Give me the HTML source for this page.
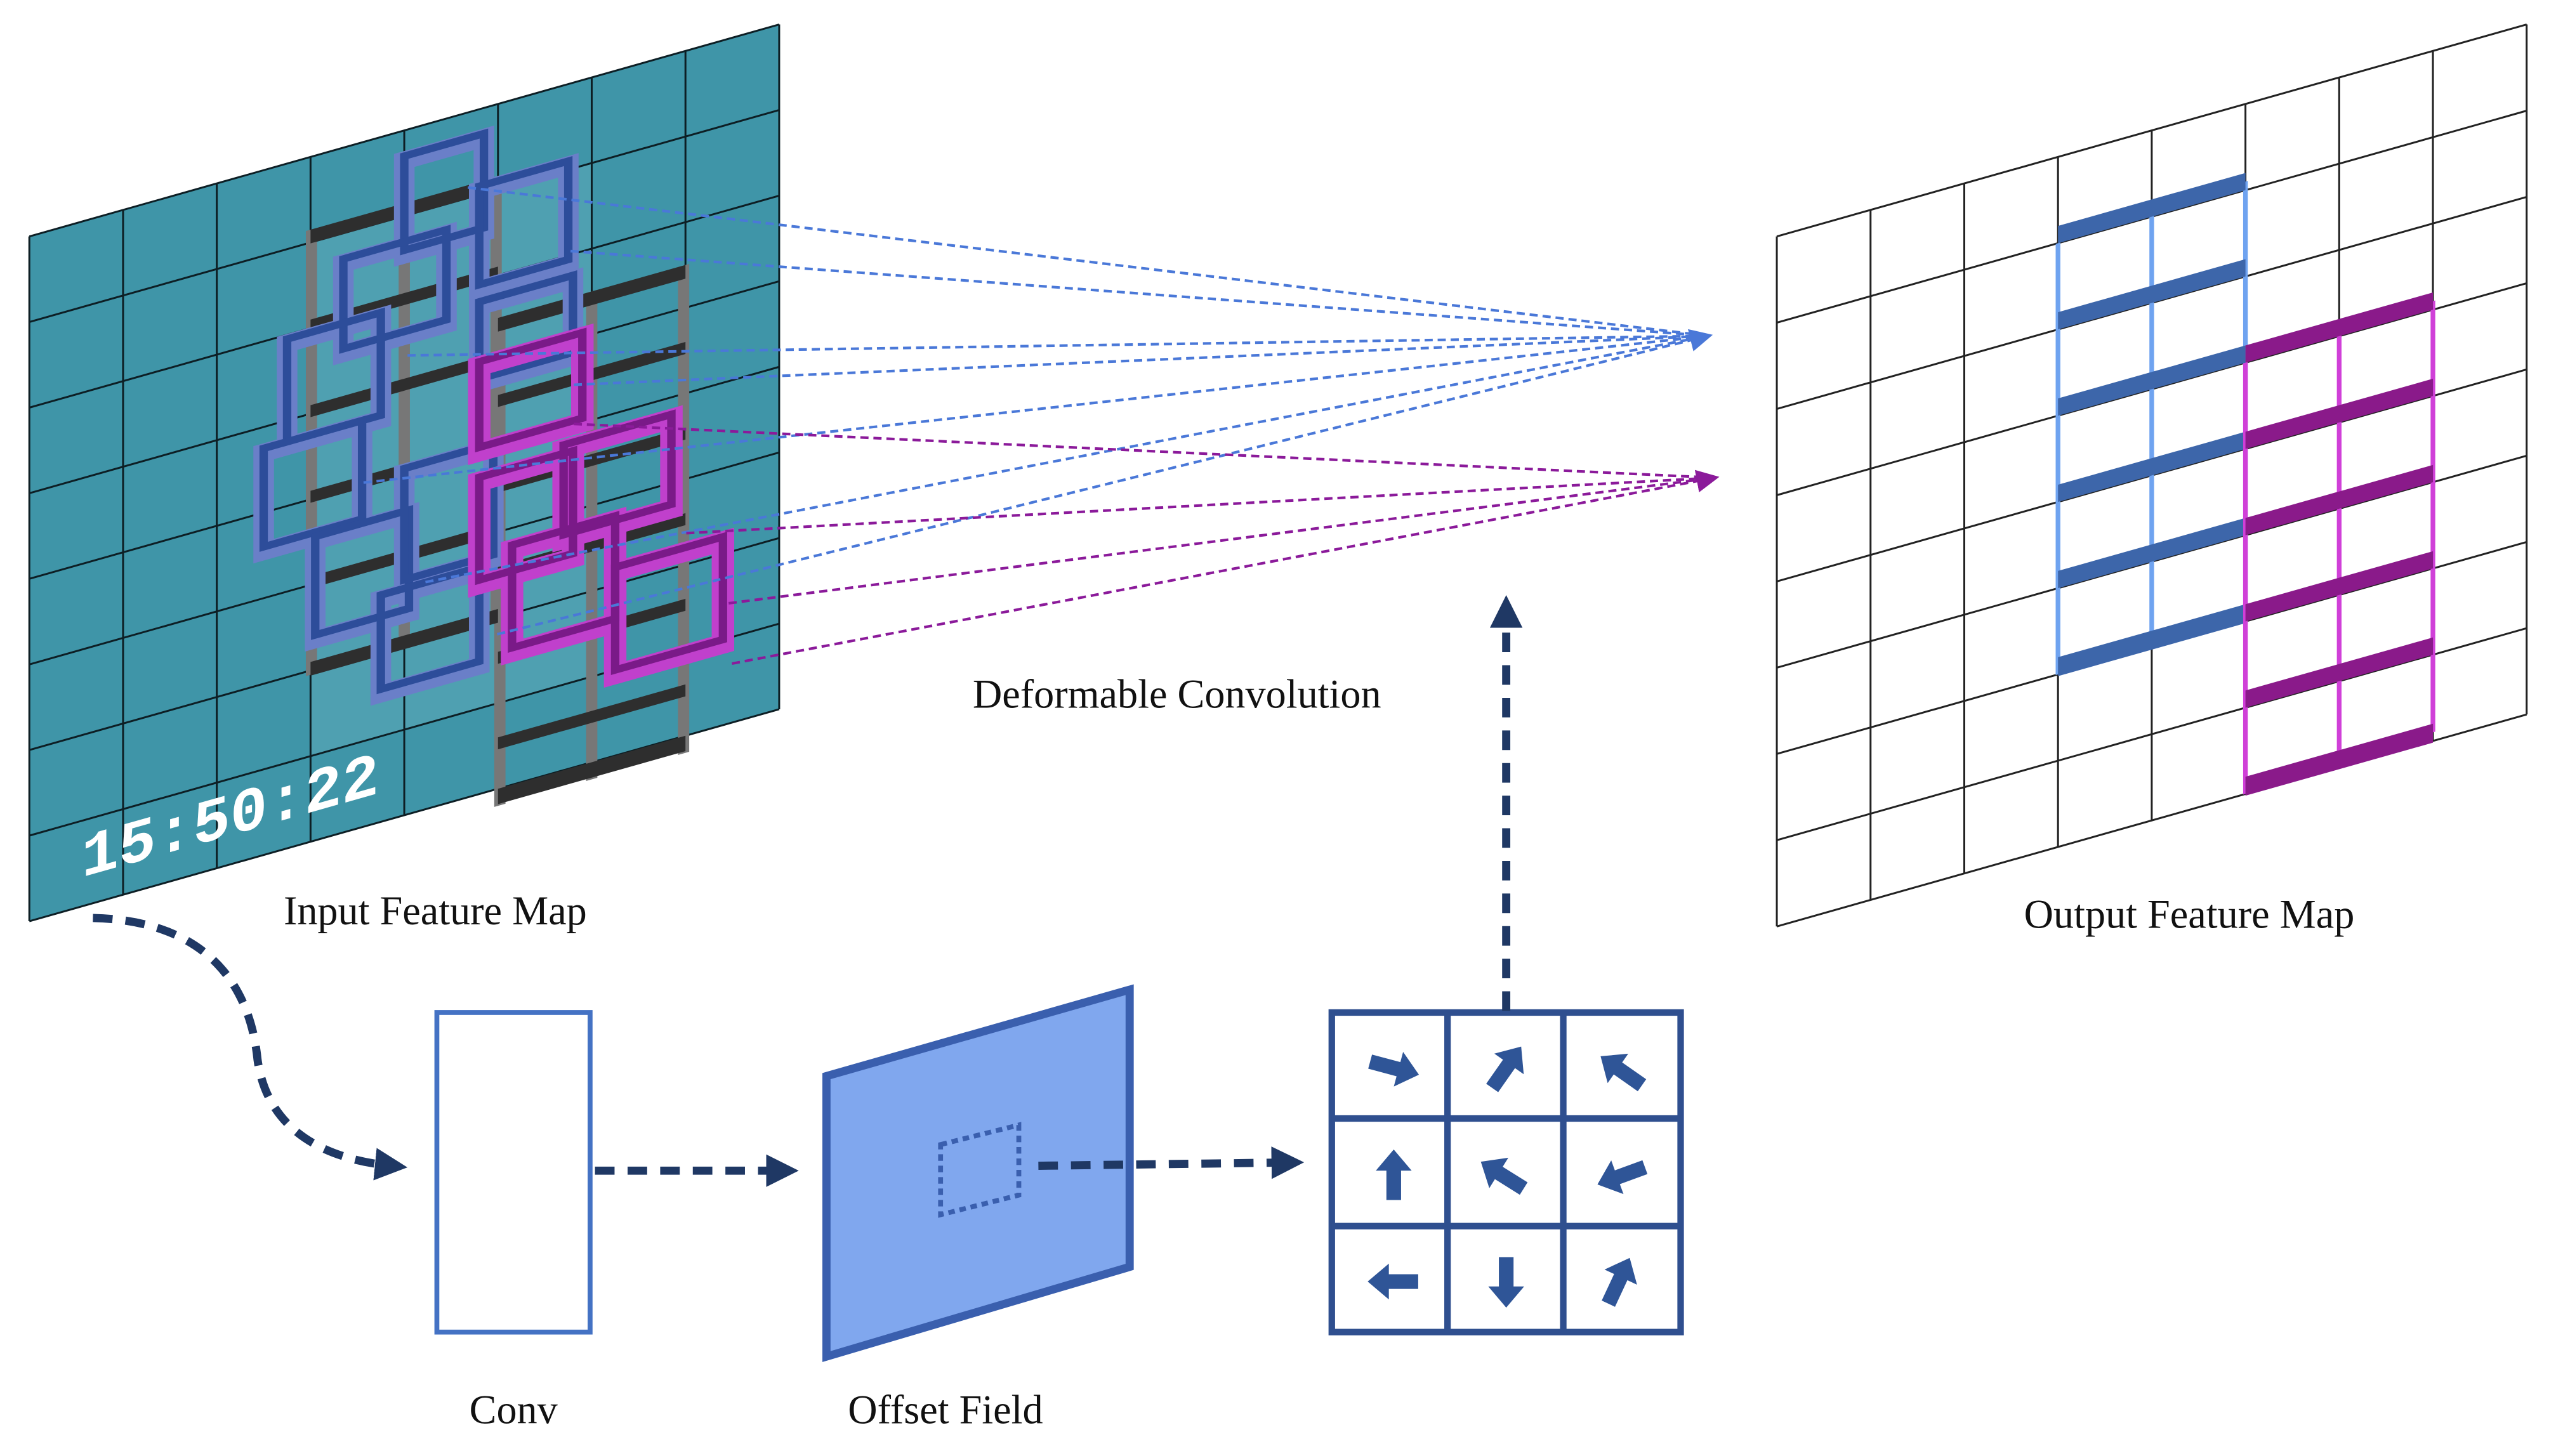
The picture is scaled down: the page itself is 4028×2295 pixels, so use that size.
<!DOCTYPE html>
<html><head><meta charset="utf-8"><style>
html,body{margin:0;padding:0;background:#fff;}
svg{display:block;}
text{font-family:"Liberation Serif",serif;fill:#111;}
</style></head><body>
<svg width="4028" height="2295" viewBox="0 0 1568 893" preserveAspectRatio="none" xmlns="http://www.w3.org/2000/svg">
<defs>
<marker id="ah" viewBox="0 0 10 10" refX="5" refY="5" markerWidth="4" markerHeight="4" orient="auto"><path d="M0,0 L10,5 L0,10 z" fill="#1f3864"/></marker>
<marker id="ab" viewBox="0 0 10 10" refX="8" refY="5" markerWidth="14" markerHeight="14" markerUnits="userSpaceOnUse" orient="auto"><path d="M0,0 L10,5 L0,10 z" fill="#4a78d8"/></marker>
<marker id="ap" viewBox="0 0 10 10" refX="8" refY="5" markerWidth="14" markerHeight="14" markerUnits="userSpaceOnUse" orient="auto"><path d="M0,0 L10,5 L0,10 z" fill="#8b1a9a"/></marker>
<g id="arr"><polygon points="-15,-4.5 3,-4.5 3,-11 16,0 3,11 3,4.5 -15,4.5" fill="#2f5597"/></g>
</defs>

<!-- INPUT MAP -->
<g transform="matrix(57.5,-16.25,0,52.5,18,145)">
<rect x="0" y="0" width="8" height="8" fill="#3f95a8"/>
<rect x="3" y="1" width="3" height="6" fill="#5aa9b8" opacity="0.6"/>
<path vector-effect="non-scaling-stroke" stroke="#0d1e24" stroke-width="3" fill="none" d="M0,0V8M1,0V8M2,0V8M3,0V8M4,0V8M5,0V8M6,0V8M7,0V8M8,0V8M0,0H8M0,1H8M0,2H8M0,3H8M0,4H8M0,5H8M0,6H8M0,7H8M0,8H8"/>
<!-- gray frames -->
<g fill="#777">
<rect x="2.95" y="0.85" width="0.12" height="5.2"/><rect x="3.94" y="0.85" width="0.12" height="5.2"/><rect x="4.92" y="0.85" width="0.12" height="5.2"/>
<rect x="4.96" y="2.5" width="0.12" height="5.7"/><rect x="5.94" y="2.5" width="0.12" height="5.7"/><rect x="6.92" y="2.5" width="0.12" height="5.7"/>
</g>
<g fill="#2e2e2e">
<rect x="3" y="0.85" width="2" height="0.16"/><rect x="3" y="1.9" width="2" height="0.14"/><rect x="3" y="2.9" width="2" height="0.14"/><rect x="3" y="3.9" width="2" height="0.14"/><rect x="3" y="4.9" width="2" height="0.14"/><rect x="3" y="5.9" width="2" height="0.16"/>
<rect x="5" y="2.5" width="2" height="0.16"/><rect x="5" y="3.4" width="2" height="0.14"/><rect x="5" y="4.4" width="2" height="0.14"/><rect x="5" y="5.4" width="2" height="0.14"/><rect x="5" y="6.4" width="2" height="0.14"/><rect x="5" y="7.4" width="2" height="0.14"/><rect x="5" y="8.0" width="2" height="0.18"/>
</g>
<!-- blue boxes -->
<g fill="none" stroke="#6a7fc8" stroke-width="0.22">
<rect x="4.0" y="0.35" width="0.85" height="1.1"/>
<rect x="4.8" y="0.95" width="0.95" height="1.15"/>
<rect x="3.35" y="1.35" width="1.1" height="1.05"/>
<rect x="2.75" y="2.1" width="1.0" height="1.2"/>
<rect x="2.5" y="3.3" width="1.05" height="1.15"/>
<rect x="4.8" y="2.3" width="1.0" height="0.9"/>
<rect x="3.05" y="4.5" width="1.0" height="1.15"/>
<rect x="4.0" y="4.0" width="0.95" height="1.3"/>
<rect x="3.75" y="5.4" width="1.05" height="1.1"/>
</g>
<g fill="none" stroke="#2d4d9a" stroke-width="0.09">
<rect x="4.0" y="0.3" width="0.85" height="1.1"/>
<rect x="4.8" y="0.9" width="0.95" height="1.15"/>
<rect x="3.35" y="1.3" width="1.1" height="1.05"/>
<rect x="2.75" y="2.05" width="1.0" height="1.2"/>
<rect x="2.5" y="3.25" width="1.05" height="1.15"/>
<rect x="4.8" y="2.25" width="1.0" height="0.9"/>
<rect x="3.05" y="4.45" width="1.0" height="1.15"/>
<rect x="4.0" y="3.95" width="0.95" height="1.3"/>
<rect x="3.75" y="5.35" width="1.05" height="1.1"/>
</g>
<!-- purple boxes -->
<g fill="none" stroke="#c040cc" stroke-width="0.24">
<rect x="4.8" y="3.0" width="1.1" height="1.0"/>
<rect x="4.8" y="4.35" width="1.0" height="1.2"/>
<rect x="5.7" y="4.25" width="1.15" height="1.05"/>
<rect x="5.15" y="5.25" width="1.1" height="1.2"/>
<rect x="6.25" y="5.85" width="1.15" height="1.2"/>
</g>
<g fill="none" stroke="#7a1a88" stroke-width="0.09">
<rect x="4.8" y="2.95" width="1.1" height="1.0"/>
<rect x="4.8" y="4.3" width="1.0" height="1.2"/>
<rect x="5.7" y="4.2" width="1.15" height="1.05"/>
<rect x="5.15" y="5.2" width="1.1" height="1.2"/>
<rect x="6.25" y="5.8" width="1.15" height="1.2"/>
</g>
</g>
<g transform="translate(50,538) skewY(-15.8)">
<text x="0" y="0" font-weight="bold" font-size="38" style="font-family:'Liberation Mono',monospace;fill:#fff">15:50:22</text>
</g>

<!-- dashed lines -->
<g fill="none" stroke="#4a78d8" stroke-width="1.6" stroke-dasharray="5,3">
<path d="M287,115 L1048,206"/><path d="M350,154 L1048,206"/><path d="M250,218 L1048,206"/><path d="M352,236 L1048,206"/>
<path d="M223,296 L1048,206"/><path d="M261,357 L1048,206"/><path d="M305,389 L1048,206" marker-end="url(#ab)"/>
</g>
<g fill="none" stroke="#8b1a9a" stroke-width="1.6" stroke-dasharray="5,3">
<path d="M352,260 L1052,293"/><path d="M421,327 L1052,293"/><path d="M447,370 L1052,293"/><path d="M449,407 L1052,293" marker-end="url(#ap)"/>
</g>

<!-- OUTPUT MAP -->
<g transform="matrix(57.5,-16.25,0,52.9,1090,145)">
<path vector-effect="non-scaling-stroke" stroke="#222" stroke-width="3" fill="none" d="M0,0V8M1,0V8M2,0V8M3,0V8M4,0V8M5,0V8M6,0V8M7,0V8M8,0V8M0,0H8M0,1H8M0,2H8M0,3H8M0,4H8M0,5H8M0,6H8M0,7H8M0,8H8"/>
<g stroke="#6fa3f0" stroke-width="0.05"><path d="M3,1V6M4,0.9V5.9M5,0.9V5.9"/></g>
<g fill="#3d66aa">
<rect x="3" y="0.8" width="2" height="0.2"/><rect x="3" y="1.8" width="2" height="0.2"/><rect x="3" y="2.8" width="2" height="0.2"/><rect x="3" y="3.8" width="2" height="0.2"/><rect x="3" y="4.8" width="2" height="0.2"/><rect x="3" y="5.8" width="2" height="0.22"/>
</g>
<g stroke="#d040d8" stroke-width="0.05"><path d="M5,3V8M6,2.9V7.9M7,2.9V7.9"/></g>
<g fill="#8a1a8a">
<rect x="5" y="2.8" width="2" height="0.2"/><rect x="5" y="3.8" width="2" height="0.2"/><rect x="5" y="4.8" width="2" height="0.2"/><rect x="5" y="5.8" width="2" height="0.2"/><rect x="5" y="6.8" width="2" height="0.2"/><rect x="5" y="7.8" width="2" height="0.22"/>
</g>
</g>

<!-- labels -->
<text x="267" y="567" font-size="25" text-anchor="middle">Input Feature Map</text>
<text x="1343" y="569" font-size="25" text-anchor="middle">Output Feature Map</text>
<text x="722" y="434" font-size="25" text-anchor="middle">Deformable Convolution</text>
<text x="315" y="873" font-size="25" text-anchor="middle">Conv</text>
<text x="580" y="873" font-size="25" text-anchor="middle">Offset Field</text>

<!-- bottom pipeline -->
<rect x="268" y="621" width="94" height="196" fill="#fff" stroke="#4472c4" stroke-width="3"/>
<polygon points="507,660 693,607 693,777 507,832" fill="#80a7ee" stroke="#3a5fae" stroke-width="5"/>
<polygon points="577,702 625,690 625,733 577,745" fill="none" stroke="#3a5fae" stroke-width="3" stroke-dasharray="4,3"/>
<g fill="none" stroke="#2f4f8f" stroke-width="4">
<rect x="817" y="621" width="214" height="196"/>
<path d="M888,621V817M959,621V817M817,686H1031M817,752H1031"/>
</g>
<use href="#arr" transform="translate(855,655) rotate(15)"/>
<use href="#arr" transform="translate(924,655) rotate(-55)"/>
<use href="#arr" transform="translate(995,657) rotate(-145)"/>
<use href="#arr" transform="translate(855,721) rotate(-90)"/>
<use href="#arr" transform="translate(922,721) rotate(-148)"/>
<use href="#arr" transform="translate(995,721) rotate(160)"/>
<use href="#arr" transform="translate(855,786) rotate(180)"/>
<use href="#arr" transform="translate(924,786) rotate(90)"/>
<use href="#arr" transform="translate(993,786) rotate(-65)"/>

<g fill="none" stroke="#1f3864" stroke-width="5" stroke-dasharray="12,8">
<path d="M57,563 C140,565 155,620 158,650 C165,700 210,712 240,715" marker-end="url(#ah)"/>
<path d="M365,718 L480,718" marker-end="url(#ah)"/>
<path d="M637,715 L790,713" marker-end="url(#ah)"/>
<path d="M924,620 L924,375" marker-end="url(#ah)"/>
</g>
</svg>
</body></html>
